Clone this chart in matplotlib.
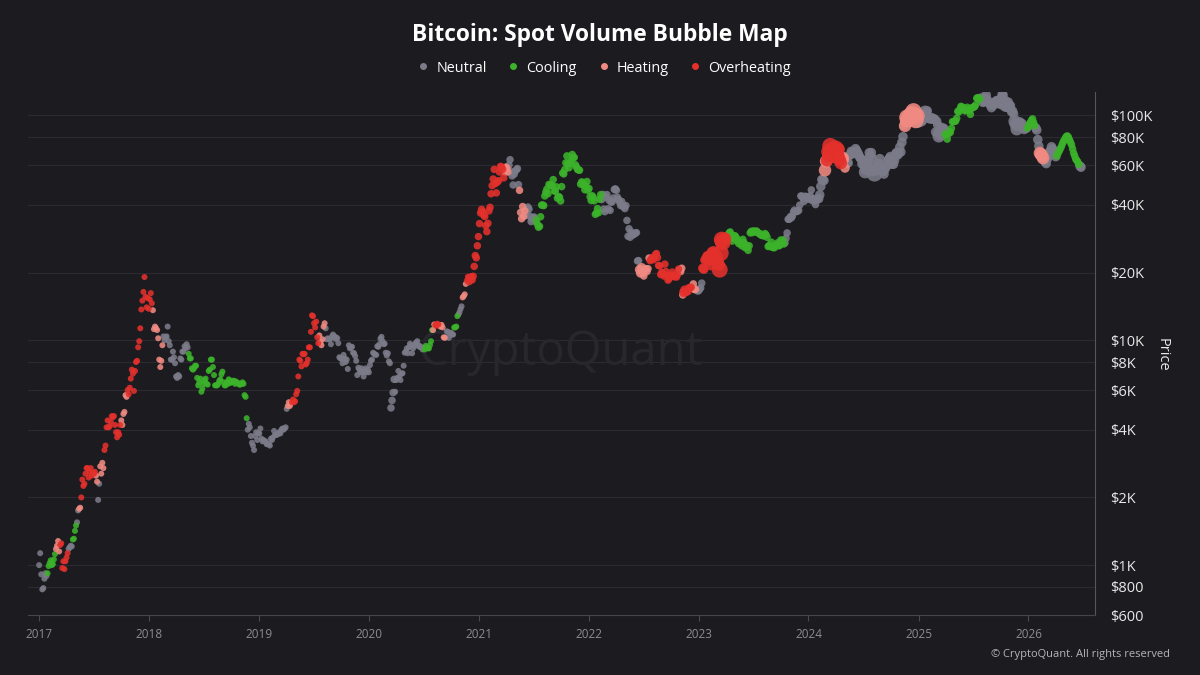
import matplotlib
matplotlib.use("Agg")
import matplotlib.pyplot as plt
from matplotlib.lines import Line2D
from matplotlib.ticker import NullLocator
import pandas as pd

plt.rcParams['font.family'] = ['Open Sans', 'DejaVu Sans']

# weekly prices (USD), one row per year, weeks start sunday 2017-01-01
price_rows = [
    [1000, 910, 790, 920, 920, 1020, 1000, 1060, 1180, 1280, 1230, 970, 960,
     1080, 1180, 1220, 1300, 1420, 1550, 1780, 2000, 2250, 2550, 2700, 2600, 2500,
     2550, 2500, 1950, 2750, 2850, 3250, 4100, 4100, 4350, 4550, 4200, 3700, 3800,
     4400, 4700, 5700, 6000, 6150, 7400, 5950, 8000, 9300, 11300, 15000, 19100, 14000],
    [13800, 16200, 13600, 11500, 11100, 8200, 8100, 10400, 10300, 11500, 9500, 8200, 8400,
     6900, 7000, 8300, 8900, 9400, 9600, 8700, 8300, 7400, 7700, 6800, 6500, 5900,
     6400, 6750, 6350, 7400, 8200, 7000, 6300, 6400, 6700, 7250, 6300, 6500, 6700,
     6600, 6600, 6400, 6450, 6350, 6400, 6400, 5600, 4000, 4100, 3500, 3250, 3900],
    [3850, 4050, 3550, 3550, 3450, 3450, 3650, 3700, 3800, 3800, 3900, 4000, 4000,
     4100, 5100, 5100, 5300, 5300, 5750, 6900, 8100, 8700, 8700, 7900, 9300, 10900,
     12800, 11400, 10300, 10500, 9500, 11500, 11300, 10200, 10100, 10400, 10400, 10300, 9700,
     8300, 7900, 8300, 8200, 9500, 9300, 8800, 8500, 7000, 7400, 7500, 6900, 7500],
    [7400, 7750, 8200, 8700, 8600, 9350, 10150, 9900, 9650, 8550, 8050, 5000, 5850,
     5900, 6800, 6900, 7100, 7700, 8900, 8750, 9650, 8750, 9450, 9750, 9400, 9300,
     9100, 9100, 9250, 9200, 9900, 11100, 11700, 11850, 11650, 11700, 10300, 10300, 10900,
     10750, 10600, 11400, 11500, 13000, 13750, 15500, 16000, 18400, 18200, 19150, 19250, 23800],
    [26300, 33000, 38200, 36000, 32300, 33100, 39000, 48700, 57500, 45200, 51200, 59300, 57500,
     55800, 58300, 60000, 56200, 49000, 56600, 58000, 46400, 34700, 35600, 35800, 39100, 35600,
     34700, 35300, 34200, 31800, 35400, 39900, 43800, 47000, 49300, 48900, 51800, 46000, 42800,
     43200, 48200, 54900, 61500, 60900, 61300, 67000, 65000, 59000, 57200, 49400, 50100, 46700],
    [50800, 47300, 41800, 43100, 36300, 38500, 42400, 42200, 38300, 43200, 38400, 37800, 41300,
     46800, 46400, 42200, 39700, 39500, 38500, 34100, 31300, 30300, 29400, 29900, 22500, 20600,
     21000, 19300, 20800, 20800, 22600, 23300, 23200, 24300, 21500, 19600, 19800, 21800, 19400,
     18800, 19300, 19400, 19300, 19600, 20600, 20900, 16300, 16300, 16450, 17100, 17100, 16800],
    [16850, 16600, 17100, 20900, 22700, 23700, 22900, 21800, 24600, 23200, 22400, 20600, 28000,
     27900, 28200, 28400, 30300, 27600, 29200, 28400, 26900, 26800, 28100, 25800, 25900, 26300,
     30500, 30600, 30300, 30200, 29800, 29300, 29100, 29400, 26100, 26100, 25900, 25800, 26500,
     26300, 27900, 27900, 27100, 30000, 34500, 35000, 37100, 37400, 37500, 39900, 43700, 41400],
    [43000, 42300, 43900, 41700, 41600, 42000, 42600, 48300, 51600, 57000, 63100, 68900, 68400,
     67200, 71300, 69300, 63400, 64900, 63100, 63900, 61500, 66900, 68500, 67800, 69600, 66700,
     64200, 62700, 55900, 60800, 68200, 68300, 58100, 58700, 58400, 64200, 57300, 54800, 59100,
     63300, 65600, 62800, 62900, 68400, 67900, 68700, 80400, 89800, 97900, 97200, 101200, 104400],
    [95100, 93700, 98300, 94500, 101100, 102600, 97700, 96500, 96100, 96300, 94200, 80700, 82600,
     86100, 82300, 78400, 84600, 87500, 93700, 94300, 104100, 106400, 109000, 105700, 105700, 105600,
     101000, 108400, 109200, 119100, 117300, 119400, 114200, 119300, 117500, 113500, 108200, 111100, 115300,
     115200, 112100, 123500, 115200, 108700, 114500, 110500, 104700, 94200, 86800, 90400, 90000, 88200],
    [88500, 87800, 91500, 95000, 93000, 88000, 78000, 68000, 66000, 63000, 61000, 66000, 70000,
     71000, 67000, 66000, 69000, 72000, 76000, 79000, 81000, 78000, 74000, 68000, 64000, 62000,
     59500],
]

# mid-week prices (wednesday/thursday of the same weeks)
mid_rows = [
    [1130, 780, 870, 895, 990, 1050, 1010, 1120, 1220, 1150, 1250, 1040, 1040,
     1130, 1200, 1210, 1310, 1500, 1750, 1800, 2400, 2300, 2700, 2450, 2700, 2580,
     2600, 2350, 2300, 2550, 2700, 3400, 4400, 4150, 4600, 4600, 3900, 3900, 4200,
     4200, 4800, 5600, 5750, 6750, 7100, 7300, 8100, 9900, 13700, 16400, 15600, 15400],
    [15200, 14600, 11200, 11300, 10200, 7600, 9500, 10000, 10400, 9900, 8200, 8900, 7900,
     6800, 6900, 8200, 8900, 9200, 9300, 8300, 7500, 7500, 7700, 6300, 6750, 6100,
     6600, 6400, 7300, 8200, 7600, 6300, 6300, 6600, 7050, 6500, 6300, 6400, 6450,
     6500, 6600, 6550, 6450, 6350, 6500, 5700, 4500, 4250, 3750, 3400, 3750, 3600],
    [3850, 3650, 3600, 3550, 3450, 3400, 3600, 3950, 3800, 3850, 3850, 4050, 4050,
     4950, 5300, 5250, 5450, 5350, 5950, 8200, 7650, 8650, 7800, 8200, 9300, 12900,
     11900, 12100, 9700, 9800, 10100, 11900, 10100, 10100, 9600, 10600, 10150, 10200, 8400,
     8300, 8600, 8000, 7450, 9200, 9350, 8750, 8100, 7550, 7200, 7200, 7250, 7200],
    [7200, 8100, 8800, 8650, 9400, 9600, 10350, 9600, 8800, 8750, 7900, 5400, 6700,
     6650, 7300, 6650, 7130, 8800, 9200, 9300, 9500, 9200, 9650, 9900, 9450, 9300,
     9230, 9430, 9200, 9530, 11100, 11750, 11600, 11750, 11480, 11400, 10250, 10950, 10250,
     10800, 10600, 11400, 12800, 13300, 14150, 15700, 17800, 19150, 18800, 18550, 21300, 23250],
    [28900, 36800, 37300, 35500, 30400, 37600, 44800, 52100, 49700, 50500, 56000, 58900, 52700,
     58800, 56000, 63500, 53800, 54800, 57200, 49200, 37000, 39300, 37600, 37300, 38300, 33700,
     35000, 33800, 32800, 32100, 39900, 39700, 45600, 44800, 48900, 48800, 46100, 48100, 43600,
     41600, 55400, 57400, 66000, 58500, 62900, 65000, 60300, 57500, 57000, 50600, 48900, 48600],
    [46400, 43500, 43900, 41700, 36800, 36900, 44400, 44500, 37300, 44400, 41900, 41100, 42900,
     47100, 43200, 41100, 41400, 39200, 39700, 29000, 28700, 29500, 29800, 30100, 22600, 19900,
     20100, 20500, 20200, 23200, 22900, 22800, 24000, 23300, 21400, 20000, 19300, 20200, 18500,
     19400, 20100, 19150, 19100, 20700, 20200, 15900, 16700, 16600, 17150, 17200, 17800, 16820],
    [16550, 16850, 17950, 20700, 23050, 23700, 22950, 24300, 24150, 23600, 21700, 24400, 27300,
     28300, 28200, 30000, 28800, 28400, 29000, 27600, 27400, 26300, 27200, 26500, 25100, 30000,
     30100, 30500, 30600, 29900, 29400, 29200, 29800, 28700, 26400, 27300, 25800, 26200, 27100,
     26400, 27400, 26800, 28400, 34500, 35400, 35600, 37900, 37300, 37800, 43800, 42900, 43700],
    [43500, 42800, 46600, 42700, 40100, 42600, 44300, 51800, 51300, 62500, 66100, 73100, 67900,
     69500, 66000, 70600, 61300, 64300, 58300, 61200, 66200, 69200, 67600, 71100, 68200, 65000,
     60800, 60200, 57700, 64100, 65800, 64600, 55100, 58700, 61200, 59000, 56200, 57600, 61700,
     64300, 60600, 60600, 67400, 66600, 72300, 75900, 90000, 94300, 96000, 98800, 101100, 100100],
    [99400, 94400, 95000, 100500, 103700, 104700, 96600, 97800, 96600, 84300, 90600, 83700, 86900,
     87200, 82500, 82600, 84000, 93700, 94200, 97000, 103500, 109600, 107800, 104700, 108600, 104900,
     107300, 108800, 111300, 119800, 118800, 117900, 115000, 123300, 114300, 111300, 111700, 114000, 116400,
     113300, 118600, 123300, 110800, 108500, 110000, 103900, 101600, 91500, 90500, 93500, 92000, 86500],
    [87500, 88500, 93000, 96500, 90000, 86000, 73000, 67000, 64500, 62000, 64000, 68500, 72500,
     69000, 65500, 67500, 70500, 74000, 77500, 80500, 80000, 76000, 71000, 66000, 63000, 60500,
     58800],
]

# N = neutral, C = cooling, H = heating, O = overheating (one letter per week)
state_rows = [
    "NNNNCCCCHHOOO" "ONNCCNHOOOOOO" "OHNHHOOOOOOOO" "HHHOOOOOOOOOO",
    "OOHHHHHNNNNNN" "NNNNNNCCCCCCC" "CCCCCCCCCCCCC" "CCCCCCCCNNNNN",
    "NNNNNNNNNNNNN" "NHHOOOOOOOOOO" "OOOHHHNNNNNNN" "NNNNNNNNNNNNN",
    "NNNNNNNNNNNNN" "NNNNNNNNNNNNN" "NCCCCHOOHHHNN" "NNCCNNHHOOOOO",
    "OOOOOOOOOOOOO" "HHNNNNNHHHNNN" "NNCCCCCCCCCCC" "CCCCCCCCCCCCC",
    "CCCCCCCNNNNNN" "NNNNNNNNNNNNH" "HHHHOOOOOOOOO" "OOOOOHHOOOOHH",
    "NNNOOOOOOOOOO" "ONCCCCCCCCCCC" "CCCCCCCCCCCCC" "CCCNNNNNNNNNN",
    "NNNNNNNNNHOOO" "OOOOHHNNNNNNN" "NNNNNNNNNNNNN" "NNNNNNNNHHHHH",
    "HNNNNNNNNNNNN" "NCCCCCCCCCCCC" "CCCCCNNNNNNNN" "NNNNNNNNNNNNN",
    "NCCCCNNHHNNNN" "NNCCCCCCCCCCC" "N",
]

# relative spot volume, 1 (low) to 5 (high)
volume_rows = [
    "1111111111111" "1111111111111" "1111111111111" "1111111111111",
    "1111111111111" "1111111111111" "1111111111111" "1111111111111",
    "1111111111111" "1111111111111" "1111111111111" "1111111111111",
    "1111111111122" "1111111111111" "1111111111111" "1111111112222",
    "2222222222222" "2222222222222" "2222222222222" "2222222222222",
    "2222222222222" "2222222222223" "3222222222222" "2222222322222",
    "2223334444455" "4222222222222" "2222222222222" "2222222222222",
    "2222223334455" "5544433333333" "3343335333333" "3333333345555",
    "5443433333344" "3222222222222" "2222233333333" "3334333344333",
    "3222233443333" "3322222222222" "3",
]

state_names = {"N": "Neutral", "C": "Cooling", "H": "Heating", "O": "Overheating"}
state_colors = {"N": "#7c7b89", "C": "#3cb32b", "H": "#f08a82", "O": "#e5312c"}
tick_values = [600, 800, 1000, 2000, 4000, 6000, 8000, 10000, 20000, 40000, 60000, 80000, 100000]
tick_labels = ["$600", "$800", "$1K", "$2K", "$4K", "$6K", "$8K", "$10K",
               "$20K", "$40K", "$60K", "$80K", "$100K"]
years = list(range(2017, 2027))

prices = [p for row in price_rows for p in row]
mids = [p for row in mid_rows for p in row]
states = list("".join(state_rows))
volumes = [int(v) for v in "".join(volume_rows)]
dates = pd.date_range("2017-01-01", periods=len(prices), freq="7D")

df = pd.concat([
    pd.DataFrame({"date": dates, "price": prices, "state": states, "vol": volumes}),
    pd.DataFrame({"date": dates + pd.Timedelta(hours=84), "price": mids,
                  "state": states, "vol": volumes}),
]).sort_values("date")

bg = "#1b1b20"
diam = {1: 6.0, 2: 7.5, 3: 9.5, 4: 12.5, 5: 16.0}  # pixels

fig = plt.figure(figsize=(12, 6.75), dpi=100, facecolor=bg)
ax = fig.add_axes([28 / 1200, 1 - 615 / 675, (1095 - 28) / 1200, (615 - 92) / 675])
ax.set_facecolor(bg)

ax.text(0.4986, 0.503, "CryptoQuant", transform=ax.transAxes, ha="center", va="center",
        fontsize=34, color="#27272d", zorder=1)

for key in ["N", "C", "H", "O"]:
    sub = df[df["state"] == key]
    sizes = [(diam[v] * 0.72) ** 2 for v in sub["vol"]]
    ax.scatter(sub["date"], sub["price"], s=sizes, color=state_colors[key],
               alpha=0.88, linewidths=0, zorder=3)

ax.set_yscale("log")
ax.set_ylim(600, 127000)
ax.set_xlim(pd.Timestamp("2016-11-25"), pd.Timestamp("2026-08-10"))

ax.yaxis.tick_right()
ax.set_yticks(tick_values)
ax.set_yticklabels(tick_labels)
ax.yaxis.set_minor_locator(NullLocator())
ax.tick_params(axis="y", length=0, pad=11, labelsize=10.5, labelcolor="#e8e8e8")

ax.set_xticks([pd.Timestamp(f"{y}-01-01") for y in years])
ax.set_xticklabels([str(y) for y in years])
ax.tick_params(axis="x", length=4, color="#4a4a52", labelsize=8.5,
               labelcolor="#8c8c94", pad=5)

ax.grid(axis="y", color="#2b2b31", lw=0.8)
ax.set_axisbelow(True)
for side in ["top", "left"]:
    ax.spines[side].set_visible(False)
ax.spines["bottom"].set_color("#45454c")
ax.spines["right"].set_color("#55555c")

fig.text(1162 / 1200, 1 - 355 / 675, "Price", rotation=270, ha="center", va="center",
         fontsize=10.5, color="#e8e8e8")

fig.text(0.5, 1 - 35 / 675, "Bitcoin: Spot Volume Bubble Map", ha="center", va="center",
         fontsize=16.4, fontweight="bold", color="white")

handles = [Line2D([], [], marker="o", ls="", color=state_colors[k], markersize=4)
           for k in ["N", "C", "H", "O"]]
fig.legend(handles, [state_names[k] for k in ["N", "C", "H", "O"]], loc="center",
           bbox_to_anchor=(0.503, 1 - 68 / 675), ncol=4, frameon=False, fontsize=10.4,
           labelcolor="white", handletextpad=0.4, columnspacing=1.35, handlelength=1)

fig.text(1170 / 1200, 1 - 655 / 675, "© CryptoQuant. All rights reserved", ha="right",
         va="center", fontsize=8, color="#b5b5b5")

fig.savefig("out.png", dpi=100, facecolor=bg)
